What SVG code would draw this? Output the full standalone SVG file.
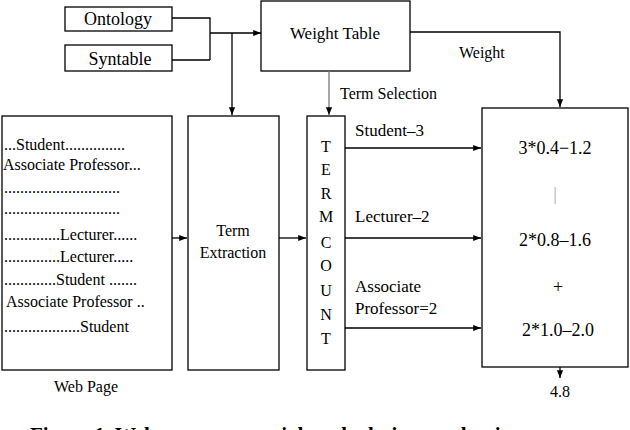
<svg xmlns="http://www.w3.org/2000/svg" width="630" height="430" viewBox="0 0 630 430">
<defs><marker id="a" viewBox="0 0 10 10" refX="10" refY="5" markerWidth="6" markerHeight="6" orient="auto"><path d="M0,1 L10,5 L0,9 z" fill="#000"/></marker></defs>
<style>
rect{fill:#fff;stroke:#000;stroke-width:1.3}
text{font-family:"Times New Roman","Liberation Serif","DejaVu Serif",serif}
.c{text-anchor:middle}
.l{stroke:#000;stroke-width:1.3;fill:none}
</style>
<rect width="630" height="430" style="stroke:none"/>
<g id="ontology"><rect x="65" y="7" width="107" height="24"/><text x="118" y="25" class="c" font-size="18">Ontology</text></g>
<g id="syntable"><rect x="65" y="45" width="107" height="26"/><text x="120" y="65" class="c" font-size="18">Syntable</text></g>
<g id="weighttable"><rect x="261" y="1" width="149" height="70"/><text x="335" y="39" class="c" font-size="17">Weight Table</text></g>
<g id="webpage"><rect x="2" y="116" width="170" height="254"/>
<g font-size="16">
<text x="4" y="150">...Student...............</text>
<text x="3" y="170">Associate Professor...</text>
<text x="4" y="193">.............................</text>
<text x="4" y="214">.............................</text>
<text x="4" y="240">..............Lecturer......</text>
<text x="4" y="262">..............Lecturer.....</text>
<text x="4" y="285">.............Student .......</text>
<text x="6" y="307">Associate Professor ..</text>
<text x="4" y="332">...................Student</text>
</g>
<text x="86" y="392" class="c" font-size="16">Web Page</text></g>
<g id="termextraction"><rect x="188" y="116" width="91" height="254"/><text x="233" y="236" class="c" font-size="16">Term</text><text x="233" y="258" class="c" font-size="16">Extraction</text></g>
<g id="termcount"><rect x="307" y="116" width="38" height="254"/>
<g class="c" font-size="16"><text x="326" y="152">T</text><text x="326" y="175">E</text><text x="326" y="199">R</text><text x="326" y="222">M</text><text x="326" y="248">C</text><text x="326" y="271">O</text><text x="326" y="296">U</text><text x="326" y="320">N</text><text x="326" y="344">T</text></g></g>
<g id="result"><rect x="482" y="108" width="146" height="259"/>
<g class="c" font-size="18"><text x="555" y="154">3*0.4−1.2</text><text x="555" y="200" style="fill:#aaa">|</text><text x="555" y="246">2*0.8–1.6</text><text x="558" y="293">+</text><text x="558" y="336">2*1.0–2.0</text></g>
<text x="560" y="397" class="c" font-size="16">4.8</text></g>
<g id="connectors">
<path class="l" d="M172,18 H210 V60 M172,60 H210 M210,33 H261" marker-end="url(#a)"/>
<path class="l" d="M232,33 V115" marker-end="url(#a)"/>
<path class="l" d="M329,71 V115" style="stroke:#777" marker-end="url(#a)"/>
<path class="l" d="M410,32 H560 V107" marker-end="url(#a)"/>
<path class="l" d="M172,238 H187" marker-end="url(#a)"/>
<path class="l" d="M279,238 H306" marker-end="url(#a)"/>
<path class="l" d="M345,148 H481" marker-end="url(#a)"/>
<path class="l" d="M345,238 H481" marker-end="url(#a)"/>
<path class="l" d="M345,328 H481" marker-end="url(#a)"/>
<path class="l" d="M560,367 V378" marker-end="url(#a)"/>
<text x="459" y="58" font-size="16">Weight</text>
<text x="340" y="99" font-size="16">Term Selection</text>
<text x="355" y="136" font-size="17">Student–3</text>
<text x="355" y="222" font-size="17">Lecturer–2</text>
<text x="355" y="292" font-size="17">Associate</text>
<text x="355" y="314" font-size="17">Professor=2</text>
</g>
<text x="30" y="442" font-size="21" font-weight="bold">Figure 1. Web page term weight calculation mechanism</text>
</svg>
